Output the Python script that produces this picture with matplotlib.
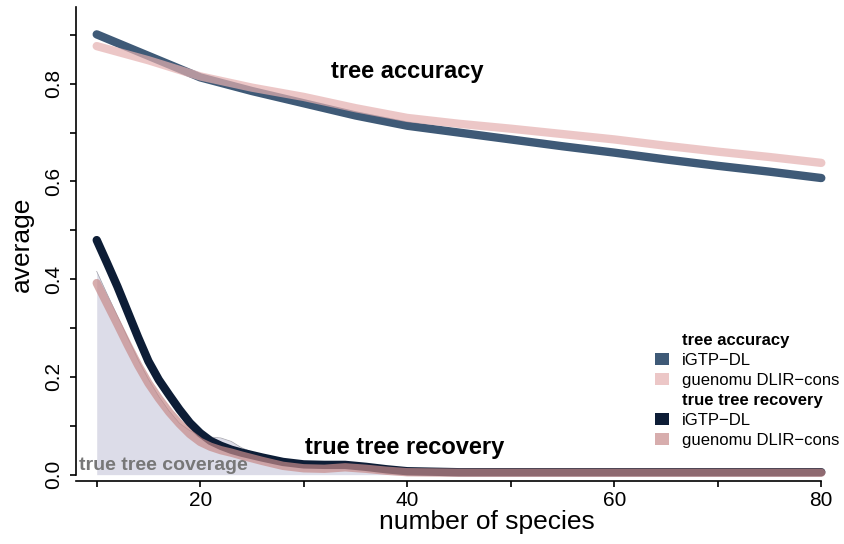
import matplotlib.pyplot as plt
from matplotlib.patches import Patch

# ── Data ─────────────────────────────────────────────────────────────────────
acc_x = [10, 15, 20, 25, 30, 35, 40, 45, 50, 55, 60, 65, 70, 75, 80]
acc_igtp = [0.901, 0.857, 0.813, 0.785, 0.760, 0.735, 0.714, 0.700,
            0.686, 0.672, 0.659, 0.645, 0.632, 0.620, 0.607]
acc_guen = [0.877, 0.848, 0.815, 0.792, 0.773, 0.750, 0.730, 0.718,
            0.708, 0.697, 0.686, 0.673, 0.661, 0.650, 0.638]

rec_x = [10, 11, 12, 13, 14, 15, 16, 17, 18, 19, 20, 21, 22, 23, 24, 26,
         28, 30, 32, 34, 36, 38, 40, 45, 50, 60, 70, 80]
rec_igtp = [0.480, 0.433, 0.385, 0.333, 0.281, 0.232, 0.194, 0.163, 0.133,
            0.106, 0.085, 0.069, 0.059, 0.051, 0.045, 0.035, 0.026, 0.021,
            0.020, 0.020, 0.016, 0.011, 0.007, 0.005, 0.005, 0.005, 0.005,
            0.005]
rec_guen = [0.392, 0.350, 0.308, 0.265, 0.224, 0.187, 0.156, 0.128, 0.104,
            0.083, 0.067, 0.057, 0.050, 0.045, 0.039, 0.028, 0.018, 0.013,
            0.012, 0.015, 0.012, 0.008, 0.005, 0.004, 0.004, 0.004, 0.004,
            0.004]
coverage = [0.416, 0.370, 0.325, 0.280, 0.235, 0.195, 0.160, 0.130, 0.105,
            0.090, 0.080, 0.077, 0.075, 0.068, 0.055, 0.038, 0.027, 0.018,
            0.015, 0.013, 0.010, 0.007, 0.004, 0.003, 0.003, 0.003, 0.003,
            0.003]

x_ticks = [10, 20, 30, 40, 50, 60, 70, 80]
y_ticks = [0.0, 0.1, 0.2, 0.3, 0.4, 0.5, 0.6, 0.7, 0.8, 0.9]

# ── Style ────────────────────────────────────────────────────────────────────
plt.rcParams["font.family"] = ["Liberation Sans", "DejaVu Sans"]

C_ACC_IGTP = "#3f5a77"
C_ACC_GUEN = (229 / 255, 176 / 255, 176 / 255)
C_REC_IGTP = "#0d1d36"
C_REC_GUEN = (199 / 255, 139 / 255, 139 / 255)
C_COVER = "#dcdce8"

fig = plt.figure(figsize=(8.44, 5.44), dpi=100)
ax = fig.add_axes([76 / 844, 63 / 544, 766 / 844, 474 / 544])

# coverage area
ax.fill_between(rec_x, 0, coverage, color=C_COVER, lw=0, zorder=1)
ax.plot(rec_x, coverage, color="#a0a0a8", lw=0.5, zorder=1)

lw = 6
ax.plot(acc_x, acc_igtp, color=C_ACC_IGTP, lw=lw, solid_capstyle="round",
        solid_joinstyle="round", zorder=3)
ax.plot(acc_x, acc_guen, color=C_ACC_GUEN, lw=lw, alpha=0.7,
        solid_capstyle="round", solid_joinstyle="round", zorder=4)
ax.plot(rec_x, rec_igtp, color=C_REC_IGTP, lw=lw, solid_capstyle="round",
        solid_joinstyle="round", zorder=3)
ax.plot(rec_x, rec_guen, color=C_REC_GUEN, lw=lw, alpha=0.7,
        solid_capstyle="round", solid_joinstyle="round", zorder=4)

# annotations
ax.text(40, 0.824, "tree accuracy", fontsize=17, fontweight="bold",
        ha="center", va="center", zorder=5)
ax.text(39.7, 0.056, "true tree recovery", fontsize=17, fontweight="bold",
        ha="center", va="center", zorder=5)
ax.text(8.3, 0.019, "true tree coverage", fontsize=14, fontweight="bold",
        color="#777777", ha="left", va="center", zorder=2)

# ── Axes ─────────────────────────────────────────────────────────────────────
ax.set_xlim(8, 82)
ax.set_ylim(-0.013, 0.957)
for s in ("top", "right"):
    ax.spines[s].set_visible(False)
ax.spines["bottom"].set_bounds(8, 80)
ax.spines["left"].set_bounds(0, 0.957)
for s in ("bottom", "left"):
    ax.spines[s].set_linewidth(1.2)

ax.set_xticks(x_ticks)
ax.set_xticklabels(["" if t % 20 else str(t) for t in x_ticks])
ax.set_yticks(y_ticks)
ax.set_yticklabels([f"{t:.1f}" if round(t * 10) % 2 == 0 else "" for t in y_ticks],
                   rotation=90, va="center")
ax.tick_params(direction="out", length=4.5, width=1.2, labelsize=15)
ax.tick_params(axis="x", pad=3)
ax.tick_params(axis="y", pad=5)

ax.set_xlabel("number of species", fontsize=19, labelpad=0)
ax.xaxis.label.set_x(0.537)
ax.set_ylabel("average", fontsize=19, labelpad=7)

# ── Legend ───────────────────────────────────────────────────────────────────
blank = Patch(visible=False)
handles = [
    blank,
    Patch(facecolor=C_ACC_IGTP),
    Patch(facecolor=C_ACC_GUEN, alpha=0.7),
    blank,
    Patch(facecolor=C_REC_IGTP),
    Patch(facecolor=C_REC_GUEN, alpha=0.7),
]
labels = ["tree accuracy", "iGTP\u2212DL", "guenomu DLIR\u2212cons",
          "true tree recovery", "iGTP\u2212DL", "guenomu DLIR\u2212cons"]
leg = fig.legend(handles, labels, loc="upper left",
                 bbox_to_anchor=(655 / 844, 1 - 333 / 544), frameon=False,
                 fontsize=12, handlelength=0.85, handleheight=0.7,
                 handletextpad=0.75, labelspacing=0.3, borderpad=0,
                 borderaxespad=0)
for i in (0, 3):
    leg.get_texts()[i].set_fontweight("bold")

fig.savefig("out.png", dpi=100)
